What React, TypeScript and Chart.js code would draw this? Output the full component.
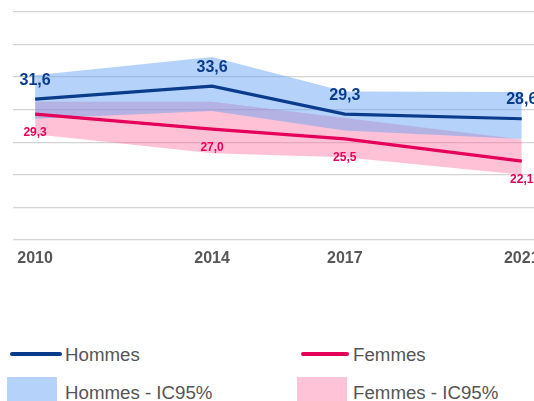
import React, { useEffect, useRef } from "react";
import { Chart, registerables } from "chart.js";

Chart.register(...registerables);

const years = [2010, 2014, 2017, 2021];
const hommes = [31.6, 33.6, 29.3, 28.6];
const femmes = [29.3, 27.0, 25.5, 22.1];
const hommesLow = [28.6, 29.8, 26.8, 25.5];
const hommesHigh = [35.3, 38.1, 32.8, 32.7];
const femmesLow = [26.2, 23.3, 22.7, 20.0];
const femmesHigh = [31.2, 31.2, 28.7, 25.4];
const hommesLabels = ["31,6", "33,6", "29,3", "28,6"];
const femmesLabels = ["29,3", "27,0", "25,5", "22,1"];

const BLUE = "#0b3c8c";
const PINK = "#e5005a";
const FONT = "'Liberation Sans', Arial, sans-serif";

const pts = (arr: number[]) => arr.map((v, i) => ({ x: years[i], y: v }));

const labelPlugin = {
  id: "valueLabels",
  afterDatasetsDraw(chart: any) {
    const ctx = chart.ctx;
    ctx.save();
    ctx.textAlign = "center";
    ctx.textBaseline = "middle";
    const m0 = chart.getDatasetMeta(0);
    ctx.font = `bold 16px ${FONT}`;
    ctx.fillStyle = BLUE;
    m0.data.forEach((p: any, i: number) => ctx.fillText(hommesLabels[i], p.x, p.y - 19));
    const m1 = chart.getDatasetMeta(1);
    ctx.font = `bold 12px ${FONT}`;
    ctx.fillStyle = PINK;
    m1.data.forEach((p: any, i: number) => ctx.fillText(femmesLabels[i], p.x, p.y + 18.5));
    ctx.restore();
  },
};

export default function App() {
  const ref = useRef<HTMLCanvasElement>(null);
  useEffect(() => {
    if (!ref.current) return;
    const chart = new Chart(ref.current, {
      type: "line",
      data: {
        datasets: [
          { label: "Hommes", data: pts(hommes), borderColor: BLUE, borderWidth: 3.2, pointRadius: 0, tension: 0, fill: false, order: 0 },
          { label: "Femmes", data: pts(femmes), borderColor: PINK, borderWidth: 3.2, pointRadius: 0, tension: 0, fill: false, order: 0 },
          { label: "hl", data: pts(hommesLow), borderWidth: 0, borderColor: "rgba(0,0,0,0)", pointRadius: 0, fill: false, order: 1 },
          { label: "Hommes - IC95%", data: pts(hommesHigh), borderWidth: 0, borderColor: "rgba(0,0,0,0)", pointRadius: 0, backgroundColor: "rgba(95,159,244,0.47)", fill: { target: 2 }, order: 1 },
          { label: "fl", data: pts(femmesLow), borderWidth: 0, borderColor: "rgba(0,0,0,0)", pointRadius: 0, fill: false, order: 2 },
          { label: "Femmes - IC95%", data: pts(femmesHigh), borderWidth: 0, borderColor: "rgba(0,0,0,0)", pointRadius: 0, backgroundColor: "rgba(255,100,150,0.4)", fill: { target: 4 }, order: 2 },
        ] as any,
      },
      options: {
        animation: false,
        responsive: false,
        devicePixelRatio: 1,
        layout: { padding: { left: 13, right: 0, top: 12, bottom: 13 } },
        plugins: { legend: { display: false }, tooltip: { enabled: false } },
        scales: {
          x: {
            type: "linear",
            min: 2009.5,
            max: 2022,
            grid: { display: false, drawTicks: false },
            border: { display: false },
            afterBuildTicks: (scale: any) => {
              scale.ticks = years.map((v) => ({ value: v }));
            },
            ticks: {
              autoSkip: false,
              maxRotation: 0,
              padding: 9,
              color: "#575757",
              font: { family: FONT, size: 16, weight: "bold", lineHeight: 1.2 },
              callback: (v: any) => String(v),
            },
          },
          y: {
            min: 10,
            max: 45,
            ticks: { stepSize: 5, display: false },
            grid: { color: "#d4d4d4", lineWidth: 1.2, drawTicks: false },
            border: { display: false },
          },
        },
      } as any,
      plugins: [labelPlugin],
    });
    return () => chart.destroy();
  }, []);

  const txt: React.CSSProperties = {
    position: "absolute",
    fontFamily: FONT,
    fontSize: 18.7,
    color: "#555555",
    lineHeight: "20px",
    whiteSpace: "nowrap",
  };

  return (
    <div style={{ position: "fixed", left: 0, top: 0, width: 534, height: 401, overflow: "hidden", background: "#fff" }}>
      <canvas ref={ref} width={566} height={290} style={{ position: "absolute", left: 0, top: 0 }} />
      <div style={{ position: "absolute", left: 10, top: 352, width: 52, height: 4, borderRadius: 2, background: BLUE }} />
      <div style={{ ...txt, left: 65, top: 345 }}>Hommes</div>
      <div style={{ position: "absolute", left: 301, top: 352, width: 48, height: 4, borderRadius: 2, background: PINK }} />
      <div style={{ ...txt, left: 353, top: 345 }}>Femmes</div>
      <div style={{ position: "absolute", left: 7, top: 377, width: 50, height: 30, background: "#b4d2fa" }} />
      <div style={{ ...txt, left: 65, top: 383 }}>Hommes - IC95%</div>
      <div style={{ position: "absolute", left: 297, top: 377, width: 50, height: 30, background: "#ffc3d7" }} />
      <div style={{ ...txt, left: 353, top: 383 }}>Femmes - IC95%</div>
    </div>
  );
}
